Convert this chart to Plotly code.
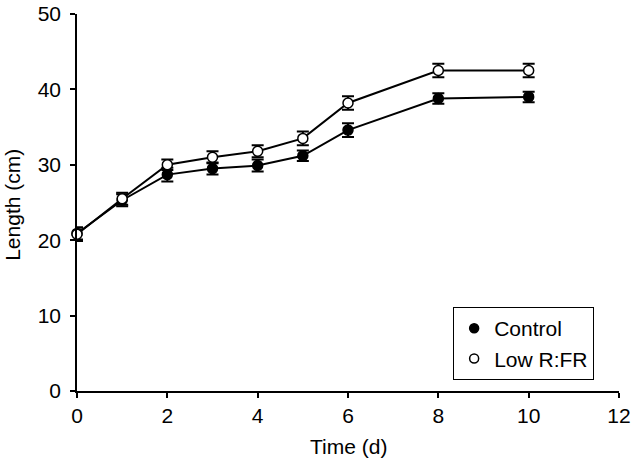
import plotly.graph_objects as go

time_d = [0, 1, 2, 3, 4, 5, 6, 8, 10]
control = [20.9, 25.3, 28.7, 29.5, 29.9, 31.2, 34.6, 38.8, 39.0]
control_err = [0.8, 0.8, 0.9, 0.8, 0.8, 0.7, 0.9, 0.7, 0.7]
low_rfr = [20.8, 25.5, 30.0, 31.0, 31.8, 33.5, 38.2, 42.5, 42.5]
low_rfr_err = [0.9, 0.8, 0.7, 0.8, 0.8, 0.9, 0.9, 0.9, 0.9]
series_names = ["Control", "Low R:FR"]
x_title = "Time (d)"
y_title = "Length (cm)"
x_ticks = [0, 2, 4, 6, 8, 10, 12]
y_ticks = [0, 10, 20, 30, 40, 50]

FS = 21
font = dict(family="Liberation Sans, Arial, sans-serif", size=FS, color="black")

fig = go.Figure()
for name, vals, errs, fill in [(series_names[0], control, control_err, "black"),
                               (series_names[1], low_rfr, low_rfr_err, "white")]:
    fig.add_trace(go.Scatter(
        x=time_d, y=vals, name=name, mode="lines+markers", showlegend=False,
        line=dict(color="black", width=2),
        marker=dict(symbol="circle", size=10, color=fill, line=dict(color="black", width=1.5)),
        error_y=dict(type="data", array=errs, color="black", thickness=2, width=6),
        cliponaxis=False,
    ))
    # legend-only entry (marker without line, as in the original)
    fig.add_trace(go.Scatter(
        x=[None], y=[None], name=name, mode="markers",
        marker=dict(symbol="circle", size=9, color=fill, line=dict(color="black", width=1.5)),
    ))

fig.update_layout(
    width=633, height=460,
    margin=dict(l=76.5, r=14.3, t=13.5, b=69, autoexpand=False),
    paper_bgcolor="white", plot_bgcolor="white",
    font=font,
    showlegend=True,
    legend=dict(x=0.694, y=0.2225, xanchor="left", yanchor="top",
                bordercolor="black", borderwidth=1, bgcolor="white",
                font=dict(size=FS), itemwidth=30, tracegroupgap=0),
    annotations=[
        dict(text=x_title, xref="paper", yref="paper", x=0.5, y=-0.148,
             xanchor="center", yanchor="middle", showarrow=False, font=dict(size=FS)),
        dict(text=y_title, xref="paper", yref="paper", x=-0.118, y=0.494, textangle=-90,
             xanchor="center", yanchor="middle", showarrow=False, font=dict(size=FS)),
    ],
)
fig.update_xaxes(
    range=[0, 12], tickvals=x_ticks, showgrid=False, zeroline=False,
    showline=True, linecolor="black", linewidth=1.5, ticks="outside", ticklen=5,
    tickwidth=1.5, tickcolor="black", automargin=False,
)
fig.update_yaxes(
    range=[0, 50], tickvals=y_ticks, showgrid=False, zeroline=False,
    showline=True, linecolor="black", linewidth=1.5, ticks="outside", ticklen=5,
    tickwidth=1.5, tickcolor="black", automargin=False, ticklabelstandoff=5,
)

fig.write_html("out.html", config={"displayModeBar": False},
               post_script="document.body.style.margin='0';")
